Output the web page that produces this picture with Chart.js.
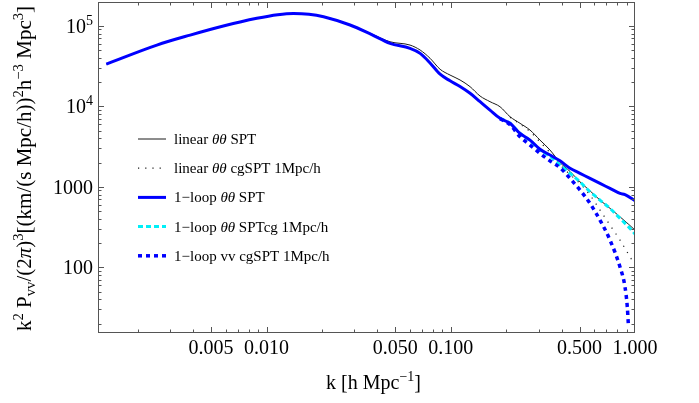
<!DOCTYPE html>
<html lang="en">
<head>
<meta charset="UTF-8">
<title>k² P_vv velocity spectrum</title>
<script src="https://cdn.jsdelivr.net/npm/chart.js"></script>
<style>
    html, body { margin: 0; padding: 0; background: #fff; }
    #wrap { width: 699px; height: 403px; }
</style>
</head>
<body>
<div id="wrap"><canvas id="pvvChart" width="699" height="403"></canvas></div>
<script>
// values, k in h/Mpc
const linK = [0.00135, 0.00254, 0.00385, 0.00583, 0.00886, 0.0115, 0.0140, 0.0170, 0.0204, 0.0284, 0.0370, 0.0468, 0.0601, 0.0682, 0.0772, 0.0875, 0.0991, 0.1123, 0.1273, 0.1442, 0.1633, 0.1851, 0.2098, 0.2377, 0.2693, 0.3051, 0.3457, 0.3918, 0.4439, 0.5030, 0.5700, 0.6457, 0.7316, 0.8291, 0.9197, 1.0];
const linP = [33400, 57500, 76500, 99200, 123600, 137000, 142000, 139000, 129500, 103000, 79500, 63200, 57500, 49900, 39400, 28800, 24400, 21200, 17500, 13400, 11400, 9860, 7410, 6140, 5060, 3800, 2860, 2000, 1550, 1150, 890, 684, 540, 424, 345, 290];

const linCgK = [0.2098, 0.2377, 0.2693, 0.3051, 0.3457, 0.3918, 0.4439, 0.5030, 0.5700, 0.6457, 0.7316, 0.8291, 0.8825, 0.9394, 0.98];
const linCgP = [7300, 6000, 4850, 3600, 2650, 1880, 1420, 1100, 789, 514, 334, 218, 172, 135, 115];

const loopK = [0.00135, 0.00254, 0.00385, 0.00583, 0.00886, 0.0115, 0.0140, 0.0170, 0.0204, 0.0284, 0.0370, 0.0468, 0.0601, 0.0682, 0.0772, 0.0875, 0.0991, 0.1123, 0.1273, 0.1442, 0.1633, 0.1851, 0.2098, 0.2377, 0.2693, 0.3051, 0.3457, 0.3918, 0.4439, 0.5030, 0.5700, 0.6457, 0.7316, 0.8291, 0.8825, 1.0];
const loopP = [33400, 57500, 76500, 99200, 123600, 137000, 142000, 139000, 129300, 102000, 78000, 60400, 52400, 45400, 34500, 25000, 20700, 17600, 14500, 11400, 8970, 7080, 6140, 4600, 3800, 2930, 2480, 2100, 1700, 1470, 1270, 1100, 955, 828, 800, 670];

const loopCgK = [0.1851, 0.2098, 0.2377, 0.2693, 0.3051, 0.3457, 0.3918, 0.4439, 0.5030, 0.5700, 0.6457, 0.7316, 0.8291, 0.9197, 1.0];
const loopCgP = [7080, 6140, 4600, 3750, 2850, 2380, 1860, 1470, 1150, 867, 684, 539, 405, 320, 260];

const vvCgK = [0.1851, 0.2098, 0.2377, 0.2693, 0.3051, 0.3457, 0.3918, 0.4439, 0.5030, 0.5700, 0.6457, 0.7316, 0.8291, 0.8825, 0.9084, 0.9197];
const vvCgP = [7000, 5900, 4180, 3300, 2600, 2100, 1730, 1270, 910, 622, 385, 218, 101, 57, 32, 20];

const seriesLabels = ['linear θθ SPT', 'linear θθ cgSPT 1Mpc/h', '1\u2212loop θθ SPT', '1\u2212loop θθ SPTcg 1Mpc/h', '1\u2212loop vv cgSPT 1Mpc/h'];

const xTickValues = [0.005, 0.01, 0.05, 0.1, 0.5, 1];
const xTickLabels = ['0.005', '0.010', '0.050', '0.100', '0.500', '1.000'];
const yTickValues = [100, 1000, 10000, 100000];
const yTickLabels = ['100', '1000', '10^4', '10^5'];

const SERIF = '"Liberation Serif", "DejaVu Serif", serif';

function pts(ks, ps) { return ks.map((k, i) => ({ x: k, y: ps[i] })); }

// small rich-text helper: segments are [text, style], style '' | 'sup' | 'sub' | 'i'
function segFont(style, size) {
    const s = (style === 'sup' || style === 'sub') ? size * 0.7 : size;
    return (style === 'i' ? 'italic ' : '') + s + 'px ' + SERIF;
}
function richWidth(ctx, segs, size) {
    let w = 0;
    segs.forEach(([t, st]) => { ctx.font = segFont(st, size); w += ctx.measureText(t).width; });
    return w;
}
function drawRich(ctx, segs, x, y, size, align) {
    let cx = x;
    const w = richWidth(ctx, segs, size);
    if (align === 'center') cx -= w / 2;
    else if (align === 'right') cx -= w;
    ctx.textAlign = 'left';
    ctx.textBaseline = 'alphabetic';
    segs.forEach(([t, st]) => {
        ctx.font = segFont(st, size);
        const dy = st === 'sup' ? -size * 0.4 : st === 'sub' ? size * 0.2 : 0;
        ctx.fillText(t, cx, y + dy);
        cx += ctx.measureText(t).width;
    });
}
function powLabel(s) {
    const p = s.split('^');
    return p.length > 1 ? [[p[0], ''], [p[1], 'sup']] : [[s, '']];
}
function legendLabel(s) {
    const out = [];
    s.split('θθ').forEach((part, i) => {
        if (i > 0) out.push(['θθ', 'i']);
        if (part) out.push([part, '']);
    });
    return out;
}

const yTitle = [['k', ''], ['2', 'sup'], [' P', ''], ['vv', 'sub'], ['/(2', ''], ['π', 'i'], [')', ''], ['3', 'sup'],
    ['[(km/(s Mpc/h))', ''], ['2', 'sup'], ['h', ''], ['\u22123', 'sup'], [' Mpc', ''], ['3', 'sup'], [']', '']];
const xTitle = [['k [h Mpc', ''], ['\u22121', 'sup'], [']', '']];

function minorTicks(min, max, majors) {
    const out = [];
    for (let d = Math.floor(Math.log10(min)); d <= Math.ceil(Math.log10(max)); d++) {
        for (let n = 1; n <= 9; n++) {
            const v = n * Math.pow(10, d);
            if (v > min * 1.0001 && v < max * 0.9999 && !majors.some(m => Math.abs(m - v) / v < 1e-6)) out.push(v);
        }
    }
    return out;
}

const framePlugin = {
    id: 'frame',
    afterDraw(chart) {
        const { ctx, chartArea: a, scales: { x, y } } = chart;
        ctx.save();
        ctx.strokeStyle = '#555';
        ctx.lineWidth = 1;
        ctx.strokeRect(a.left + 0.5, a.top + 0.5, a.right - a.left - 1, a.bottom - a.top - 1);

        ctx.beginPath();
        const xt = [[xTickValues.filter(v => v < 1), 6], [minorTicks(x.min, x.max, xTickValues), 3.5]];
        xt.forEach(([vals, len]) => vals.forEach(v => {
            const px = Math.round(x.getPixelForValue(v)) + 0.5;
            ctx.moveTo(px, a.bottom); ctx.lineTo(px, a.bottom - len);
            ctx.moveTo(px, a.top); ctx.lineTo(px, a.top + len);
        }));
        const yt = [[yTickValues, 6], [minorTicks(y.min, y.max, yTickValues), 3.5]];
        yt.forEach(([vals, len]) => vals.forEach(v => {
            const py = Math.round(y.getPixelForValue(v)) + 0.5;
            ctx.moveTo(a.left, py); ctx.lineTo(a.left + len, py);
            ctx.moveTo(a.right, py); ctx.lineTo(a.right - len, py);
        }));
        ctx.stroke();

        ctx.fillStyle = '#000';
        xTickValues.forEach((v, i) => {
            drawRich(ctx, [[xTickLabels[i], '']], x.getPixelForValue(v), a.bottom + 21, 20, 'center');
        });
        yTickValues.forEach((v, i) => {
            drawRich(ctx, powLabel(yTickLabels[i]), a.left - 5, y.getPixelForValue(v) + 7, 20, 'right');
        });

        drawRich(ctx, xTitle, (a.left + a.right) / 2 + 7, a.bottom + 56, 20, 'center');

        ctx.save();
        ctx.translate(31, (a.top + a.bottom) / 2 + 1);
        ctx.rotate(-Math.PI / 2);
        drawRich(ctx, yTitle, 0, 0, 21, 'center');
        ctx.restore();

        // legend inside the frame
        chart.data.datasets.forEach((ds, i) => {
            const ry = a.top + 137 + i * 29.2;
            ctx.beginPath();
            ctx.setLineDash(ds.borderDash || []);
            ctx.lineWidth = ds.borderWidth;
            ctx.strokeStyle = ds.borderColor;
            ctx.moveTo(a.left + 40, ry);
            ctx.lineTo(a.left + 68, ry);
            ctx.stroke();
            ctx.setLineDash([]);
            ctx.fillStyle = '#000';
            drawRich(ctx, legendLabel(seriesLabels[i]), a.left + 76, ry + 5, 15, 'left');
        });
        ctx.restore();
    }
};

const common = { pointRadius: 0, fill: false, cubicInterpolationMode: 'monotone' };

new Chart(document.getElementById('pvvChart'), {
    type: 'line',
    data: {
        datasets: [
            { ...common, label: seriesLabels[0], data: pts(linK, linP), borderColor: '#1a1a1a', borderWidth: 1, order: 5 },
            { ...common, label: seriesLabels[1], data: pts(linCgK, linCgP), borderColor: '#1a1a1a', borderWidth: 1.2, borderDash: [1.2, 6], order: 4 },
            { ...common, label: seriesLabels[2], data: pts(loopK, loopP), borderColor: '#0000ff', borderWidth: 3, order: 1 },
            { ...common, label: seriesLabels[3], data: pts(loopCgK, loopCgP), borderColor: '#00f0f8', borderWidth: 3, borderDash: [5, 3], order: 3 },
            { ...common, label: seriesLabels[4], data: pts(vvCgK, vvCgP), borderColor: '#0000ff', borderWidth: 3.5, borderDash: [4, 4], order: 2 }
        ]
    },
    options: {
        responsive: false,
        animation: false,
        devicePixelRatio: 1,
        layout: { padding: { left: 98, right: 64, top: 2, bottom: 70 } },
        plugins: { legend: { display: false }, tooltip: { enabled: false } },
        scales: {
            x: { type: 'logarithmic', min: 0.001217, max: 1, display: false },
            y: { type: 'logarithmic', min: 15.3, max: 197000, display: false }
        }
    },
    plugins: [framePlugin]
});
</script>
</body>
</html>
